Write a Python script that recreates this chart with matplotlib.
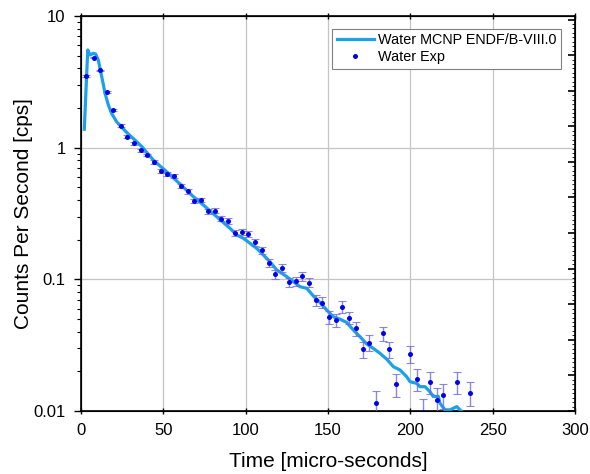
import matplotlib
matplotlib.use("Agg")
import matplotlib.pyplot as plt
from matplotlib.ticker import MultipleLocator, LogLocator, NullFormatter, FixedLocator

plt.rcParams['font.family'] = ['Liberation Sans', 'DejaVu Sans']

# MCNP simulation (ENDF/B-VIII.0)
mcnp_t = [2.0, 4.1, 5.5, 7.5, 8.9, 10.5, 12.6, 14.6, 16.6, 18.6, 21.7, 24.7, 28.7, 32.8,
          36.9, 43.9, 52.0, 60.1, 68.2, 74.3, 82.4, 90.5, 94.6, 98.6, 106.7, 114.8, 118.8,
          124.9, 128.9, 133.0, 137.1, 141.1, 145.1, 149.2, 153.2, 157.3, 161.4, 165.4,
          169.4, 173.5, 177.5, 181.6, 185.6, 189.7, 193.7, 197.8, 199.8, 203.9, 205.9,
          208.9, 211.9, 213.9, 217.0, 218.0, 221.0, 224.1, 228.2, 231.2]
mcnp_cps = [1.38, 5.52, 5.06, 5.21, 5.14, 4.63, 3.46, 2.59, 2.11, 1.82, 1.57, 1.43, 1.27, 1.14,
            1.02, 0.806, 0.657, 0.530, 0.425, 0.367, 0.299, 0.244, 0.217, 0.205, 0.172, 0.136,
            0.118, 0.105, 0.0960, 0.0879, 0.0855, 0.0747, 0.0667, 0.0585, 0.0520, 0.0498,
            0.0470, 0.0412, 0.0367, 0.0323, 0.0299, 0.0274, 0.0248, 0.0217, 0.0205, 0.0182,
            0.0167, 0.0162, 0.0153, 0.0153, 0.0140, 0.0129, 0.0129, 0.01146, 0.0102, 0.0102,
            0.0108, 0.0099]

# experiment
exp_t = [3.2, 7.6, 11.5, 15.8, 19.6, 24.1, 28.1, 32.2, 36.3, 40.3, 44.3, 48.4, 52.5, 56.6,
         60.7, 64.7, 68.8, 72.9, 77.1, 81.3, 85.3, 89.4, 93.5, 97.6, 101.6, 105.7, 109.7,
         113.9, 118.0, 122.1, 126.1, 130.3, 134.4, 138.5, 142.5, 146.5, 150.6, 154.7, 158.8,
         162.9, 167.0, 171.1, 175.1, 179.1, 183.2, 187.3, 191.4, 199.6, 203.9, 207.9, 211.9,
         216.0, 220.0, 228.2, 236.5]
exp_cps = [3.50, 4.82, 3.87, 2.66, 1.92, 1.47, 1.21, 1.08, 0.96, 0.88, 0.78, 0.665, 0.63, 0.61,
           0.512, 0.465, 0.394, 0.400, 0.330, 0.333, 0.289, 0.277, 0.224, 0.228, 0.221, 0.191,
           0.166, 0.1324, 0.109, 0.1226, 0.0954, 0.0963, 0.106, 0.0946, 0.0697, 0.0665, 0.0516,
           0.0489, 0.0617, 0.0511, 0.0425, 0.0294, 0.0331, 0.01156, 0.0388, 0.0294, 0.0160,
           0.0271, 0.0176, 0.0098, 0.01656, 0.0122, 0.01327, 0.01656, 0.01377]
exp_err = [0.047, 0.055, 0.049, 0.041, 0.035, 0.030, 0.028, 0.026, 0.025, 0.023, 0.022, 0.020,
           0.020, 0.020, 0.018, 0.017, 0.016, 0.016, 0.014, 0.014, 0.013, 0.013, 0.012, 0.012,
           0.012, 0.011, 0.010, 0.0091, 0.0083, 0.0088, 0.0077, 0.0078, 0.0081, 0.0077, 0.0066,
           0.0064, 0.0057, 0.0055, 0.0062, 0.0057, 0.0052, 0.0043, 0.0046, 0.0027, 0.0049,
           0.0043, 0.0032, 0.0041, 0.0033, 0.0025, 0.0032, 0.0028, 0.0029, 0.0032, 0.0029]

fig = plt.figure(figsize=(5.9, 4.74), dpi=100)
ax = fig.add_axes([81/590, 1 - 411/474, 494/590, 395/474])

ax.plot(mcnp_t, mcnp_cps, color='#1ba1ea', lw=2.3, label='Water MCNP ENDF/B-VIII.0', zorder=3)
ax.errorbar(exp_t, exp_cps, yerr=exp_err, fmt='none', ecolor='#6c6cd8', elinewidth=1,
            capsize=3.2, capthick=0.8, alpha=0.8, zorder=4)
ax.plot(exp_t, exp_cps, 'o', color='#0000ee', ms=3.6, mew=0, label='Water Exp', zorder=5)

ax.set_yscale('log')
ax.set_xlim(0, 300)
ax.set_ylim(0.01, 10)
ax.xaxis.set_major_locator(MultipleLocator(50))
ax.yaxis.set_major_locator(FixedLocator([0.01, 0.1, 1, 10]))
ax.set_yticklabels(['0.01', '0.1', '1', '10'])
ax.yaxis.set_minor_locator(LogLocator(base=10, subs=range(2, 10)))
ax.yaxis.set_minor_formatter(NullFormatter())
ax.grid(True, which='major', color='#c4c4c4', lw=0.9)
ax.set_axisbelow(True)

ax.tick_params(axis='both', which='major', labelsize=12, length=5, width=1, direction='out')
ax.tick_params(axis='y', which='major', pad=6)
ax.tick_params(axis='x', which='major', pad=6)
ax.tick_params(axis='y', which='minor', length=3, width=0.8, direction='out')
ax.tick_params(axis='x', top=True, which='major', direction='inout')
for s in ax.spines.values():
    s.set_linewidth(1.2)

ax.set_xlabel('Time [micro-seconds]', fontsize=15, labelpad=10)
ax.set_ylabel('Counts Per Second [cps]', fontsize=15, labelpad=0)

ax2 = ax.twinx()
ax2.set_ylim(0, 11.1)
ax2.yaxis.set_major_locator(MultipleLocator(1))
ax2.yaxis.set_minor_locator(MultipleLocator(0.125))
ax2.tick_params(axis='y', which='major', length=5, width=1.2, direction='in', labelright=False)
ax2.tick_params(axis='y', which='minor', length=2.5, width=0.6, direction='in')

leg = ax.legend(loc='upper right', fontsize=10.4, frameon=True, fancybox=False,
                edgecolor='#808080', framealpha=1, borderpad=0.3, labelspacing=0.2,
                handlelength=2.6, handletextpad=0.3, borderaxespad=0,
                bbox_to_anchor=(0.972, 0.967))
leg.get_frame().set_linewidth(0.8)

fig.savefig('out.png', dpi=100)
